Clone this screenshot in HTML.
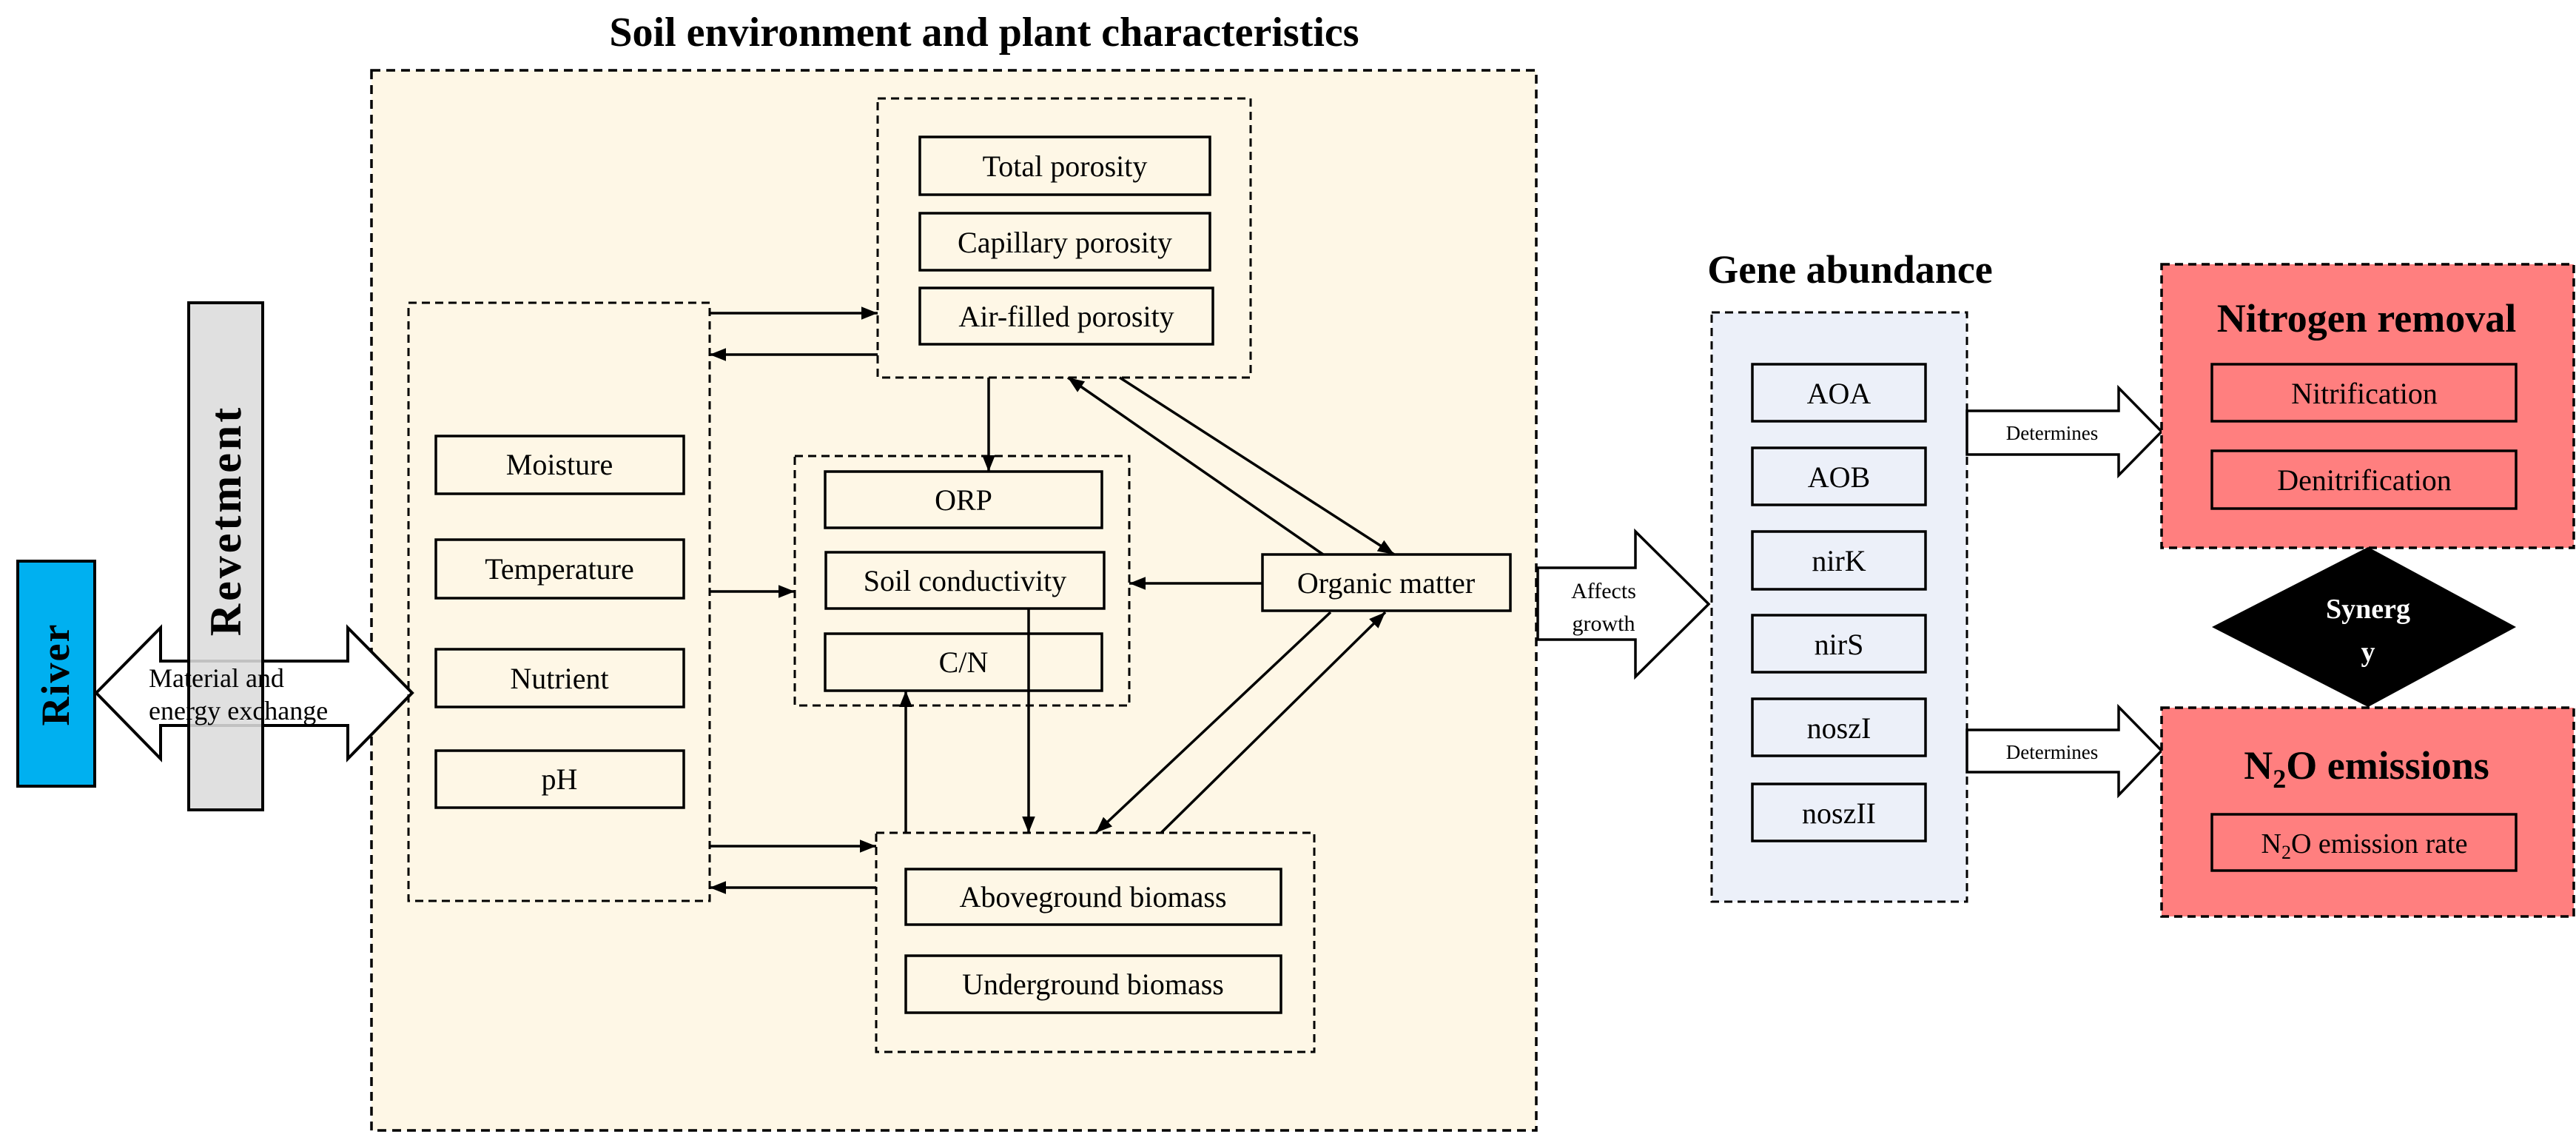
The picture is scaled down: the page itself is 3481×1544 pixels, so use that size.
<!DOCTYPE html>
<html><head><meta charset="utf-8"><style>
html,body{margin:0;padding:0;background:#fff;}
svg{display:block;}
text{font-family:"Liberation Serif",serif;fill:#000;}
</style></head><body>
<svg width="3481" height="1544" viewBox="0 0 3481 1544" xmlns="http://www.w3.org/2000/svg">
<defs>
<marker id="a" viewBox="0 0 10 10" refX="10" refY="5" markerWidth="22" markerHeight="22" markerUnits="userSpaceOnUse" orient="auto"><path d="M0,1 L10,5 L0,9 z" fill="#000"/></marker>
</defs>

<!-- outer box -->
<rect x="502" y="95" width="1574" height="1432" fill="#fef7e6" stroke="#000" stroke-width="3.5" stroke-dasharray="12,8"/>
<text x="1330" y="62" font-size="56" font-weight="bold" text-anchor="middle">Soil environment and plant characteristics</text>

<!-- River -->
<rect x="24" y="758" width="104" height="304" fill="#00b0f0" stroke="#000" stroke-width="4"/>
<text transform="translate(93,911) rotate(-90)" font-size="54" font-weight="bold" text-anchor="middle" letter-spacing="2">River</text>

<!-- double arrow -->
<path d="M130,936 L217,848 L217,893 L470,893 L470,848 L557,936 L470,1025 L470,980 L217,980 L217,1025 Z" fill="#fff" stroke="#000" stroke-width="4"/>
<!-- Revetment -->
<rect x="255" y="409" width="100" height="685" fill="#dcdcdc" fill-opacity="0.88" stroke="#000" stroke-width="4"/>
<text transform="translate(325,703) rotate(-90)" font-size="60" font-weight="bold" text-anchor="middle" letter-spacing="4">Revetment</text>
<text x="201" y="928" font-size="36">Material and</text>
<text x="201" y="972" font-size="36">energy exchange</text>

<!-- left dashed box -->
<rect x="552" y="409" width="407" height="808" fill="none" stroke="#000" stroke-width="3" stroke-dasharray="11,7"/>
<g fill="none" stroke="#000" stroke-width="3.5">
<rect x="589" y="589" width="335" height="78"/>
<rect x="589" y="729" width="335" height="79"/>
<rect x="589" y="877" width="335" height="78"/>
<rect x="589" y="1014" width="335" height="77"/>
</g>
<g font-size="40" text-anchor="middle">
<text x="756" y="641">Moisture</text>
<text x="756" y="782">Temperature</text>
<text x="756" y="930">Nutrient</text>
<text x="756" y="1066">pH</text>
</g>

<!-- porosity group -->
<rect x="1186" y="133" width="504" height="377" fill="none" stroke="#000" stroke-width="3" stroke-dasharray="11,7"/>
<g fill="none" stroke="#000" stroke-width="3.5">
<rect x="1243" y="185" width="392" height="78"/>
<rect x="1243" y="288" width="392" height="77"/>
<rect x="1243" y="389" width="396" height="76"/>
</g>
<g font-size="40" text-anchor="middle">
<text x="1439" y="238">Total porosity</text>
<text x="1439" y="341">Capillary porosity</text>
<text x="1441" y="441">Air-filled porosity</text>
</g>

<!-- middle group -->
<rect x="1074" y="616" width="452" height="337" fill="none" stroke="#000" stroke-width="3" stroke-dasharray="11,7"/>
<g fill="none" stroke="#000" stroke-width="3.5">
<rect x="1115" y="637" width="374" height="76"/>
<rect x="1116" y="746" width="376" height="76"/>
<rect x="1115" y="856" width="374" height="77"/>
</g>
<g font-size="40" text-anchor="middle">
<text x="1302" y="689">ORP</text>
<text x="1304" y="798">Soil conductivity</text>
<text x="1302" y="908">C/N</text>
</g>

<!-- Organic matter -->
<rect x="1706" y="749" width="335" height="76" fill="none" stroke="#000" stroke-width="3.5"/>
<text x="1873" y="801" font-size="40" text-anchor="middle">Organic matter</text>

<!-- biomass -->
<rect x="1184" y="1125" width="592" height="296" fill="none" stroke="#000" stroke-width="3" stroke-dasharray="11,7"/>
<g fill="none" stroke="#000" stroke-width="3.5">
<rect x="1224" y="1174" width="507" height="75"/>
<rect x="1224" y="1291" width="507" height="77"/>
</g>
<g font-size="40" text-anchor="middle">
<text x="1477" y="1225">Aboveground biomass</text>
<text x="1477" y="1343">Underground biomass</text>
</g>

<!-- connectors -->
<g stroke="#000" stroke-width="3.5" fill="none" marker-end="url(#a)">
<line x1="959" y1="423" x2="1186" y2="423"/>
<line x1="1186" y1="479" x2="959" y2="479"/>
<line x1="959" y1="799" x2="1074" y2="799"/>
<line x1="959" y1="1143" x2="1184" y2="1143"/>
<line x1="1184" y1="1199" x2="959" y2="1199"/>
<line x1="1336" y1="510" x2="1336" y2="637"/>
<line x1="1788" y1="749" x2="1443" y2="510"/>
<line x1="1513" y1="510" x2="1884" y2="749"/>
<line x1="1706" y1="788" x2="1526" y2="788"/>
<line x1="1390" y1="822" x2="1390" y2="1125"/>
<line x1="1224" y1="1125" x2="1224" y2="933"/>
<line x1="1798" y1="827" x2="1481" y2="1125"/>
<line x1="1569" y1="1125" x2="1872" y2="827"/>
</g>

<!-- Affects growth arrow -->
<path d="M2078,767 L2210,767 L2210,718 L2309,816 L2210,914 L2210,864 L2078,864 Z" fill="#fff" stroke="#000" stroke-width="3.5"/>
<text x="2167" y="808" font-size="30" text-anchor="middle">Affects</text>
<text x="2167" y="852" font-size="30" text-anchor="middle">growth</text>

<!-- Gene abundance -->
<text x="2500" y="382" font-size="54" font-weight="bold" text-anchor="middle">Gene abundance</text>
<rect x="2313" y="422" width="345" height="796" fill="#ecf0f9" stroke="#000" stroke-width="3" stroke-dasharray="11,7"/>
<g fill="none" stroke="#000" stroke-width="3.5">
<rect x="2368" y="492" width="234" height="77"/>
<rect x="2368" y="605" width="234" height="77"/>
<rect x="2368" y="718" width="234" height="78"/>
<rect x="2368" y="831" width="234" height="77"/>
<rect x="2368" y="944" width="234" height="77"/>
<rect x="2368" y="1059" width="234" height="77"/>
</g>
<g font-size="40" text-anchor="middle">
<text x="2485" y="545">AOA</text>
<text x="2485" y="658">AOB</text>
<text x="2485" y="771">nirK</text>
<text x="2485" y="884">nirS</text>
<text x="2485" y="997">noszI</text>
<text x="2485" y="1112">noszII</text>
</g>

<!-- Determines arrows -->
<path d="M2658,555 L2863,555 L2863,524 L2921,583 L2863,642 L2863,614 L2658,614 Z" fill="#fff" stroke="#000" stroke-width="3.5"/>
<text x="2773" y="594" font-size="27" text-anchor="middle">Determines</text>
<path d="M2658,986 L2863,986 L2863,955 L2921,1014 L2863,1074 L2863,1043 L2658,1043 Z" fill="#fff" stroke="#000" stroke-width="3.5"/>
<text x="2773" y="1025" font-size="27" text-anchor="middle">Determines</text>

<!-- Nitrogen removal -->
<rect x="2921" y="357" width="557" height="383" fill="#ff7f7f" stroke="#000" stroke-width="3.5" stroke-dasharray="11,7"/>
<text x="3198" y="448" font-size="54" font-weight="bold" text-anchor="middle">Nitrogen removal</text>
<g fill="none" stroke="#000" stroke-width="3.5">
<rect x="2989" y="492" width="411" height="77"/>
<rect x="2989" y="609" width="411" height="78"/>
</g>
<text x="3195" y="545" font-size="40" text-anchor="middle">Nitrification</text>
<text x="3195" y="662" font-size="40" text-anchor="middle">Denitrification</text>

<!-- Diamond -->
<path d="M3200,739 L3400,847 L3200,955 L2989,847 Z" fill="#000"/>
<text x="3200" y="835" font-size="38" font-weight="bold" text-anchor="middle" style="fill:#fff">Synerg</text>
<text x="3200" y="893" font-size="38" font-weight="bold" text-anchor="middle" style="fill:#fff">y</text>

<!-- N2O emissions -->
<rect x="2921" y="956" width="557" height="282" fill="#ff7f7f" stroke="#000" stroke-width="3.5" stroke-dasharray="11,7"/>
<text x="3198" y="1052" font-size="54" font-weight="bold" text-anchor="middle">N<tspan font-size="36" dy="12">2</tspan><tspan dy="-12">O emissions</tspan></text>
<rect x="2989" y="1100" width="411" height="76" fill="none" stroke="#000" stroke-width="3.5"/>
<text x="3195" y="1152" font-size="38" text-anchor="middle">N<tspan font-size="26" dy="8">2</tspan><tspan dy="-8">O emission rate</tspan></text>
</svg>
</body></html>
